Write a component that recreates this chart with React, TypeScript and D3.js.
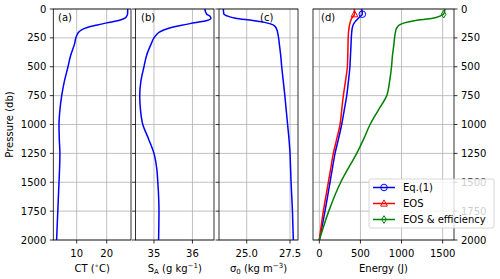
import React, { useEffect, useRef } from "react";
import * as d3 from "d3";

// pressure levels (db) shared by every profile
const pres = [0, 45, 60, 80, 100, 120, 140, 160, 180, 200, 225, 250, 300, 400, 500, 625, 750, 875, 1000, 1125, 1250, 1375, 1500, 1750, 2000];

// (a) conservative temperature
const ct = [27.0, 26.95, 26.7, 26.1, 24.0, 20.0, 16.5, 13.5, 11.6, 10.7, 10.1, 9.7, 9.3, 8.0, 7.1, 5.9, 5.0, 4.4, 4.1, 4.2, 4.4, 4.3, 4.1, 3.7, 3.3];
// (b) absolute salinity
const sa = [36.32, 36.37, 36.45, 36.48, 36.38, 36.05, 35.72, 35.45, 35.27, 35.14, 35.06, 35.0, 34.93, 34.81, 34.74, 34.66, 34.63, 34.65, 34.71, 34.86, 35.0, 35.07, 35.1, 35.13, 35.12];
// (c) potential density anomaly
const sigma0 = [23.65, 23.68, 23.88, 24.35, 25.35, 26.15, 26.55, 26.68, 26.74, 26.78, 26.81, 26.84, 26.88, 26.96, 27.02, 27.11, 27.2, 27.28, 27.36, 27.44, 27.5, 27.53, 27.56, 27.64, 27.69];
// (d) energy
const eq1 = [515, 523, 505, 475, 448, 425, 410, 402, 397, 394, 391, 389, 386, 379, 372, 354, 333, 303, 272, 233, 191, 160, 130, 69, 0];
const eos = [426, 428, 415, 394, 382, 374, 367, 362, 358, 355, 353, 351, 349, 346, 341, 318, 292, 272, 252, 212, 170, 140, 110, 49, 0];
const eosEff = [1529, 1512, 1470, 1380, 1170, 1035, 970, 945, 932, 926, 920, 915, 908, 890, 878, 855, 820, 718, 617, 540, 455, 355, 260, 115, 0];
const markIdx = [1];

const presTicks = [0, 250, 500, 750, 1000, 1250, 1500, 1750, 2000];
const ctTicks = [10, 20];
const saTicks = [35, 36];
const sigTicks = [25.0, 27.5];
const energyTicks = [0, 500, 1000, 1500];

const legendNames = ["Eq.(1)", "EOS", "EOS & efficiency"];
const colors = ["#0000ff", "#ff0000", "#008000"];

const W = 500, H = 279;
const top = 9, bottom = 240;
const FONT = "DejaVu Sans";

export default function App() {
  const ref = useRef<SVGSVGElement>(null);

  useEffect(() => {
    const svg = d3.select(ref.current);
    svg.selectAll("*").remove();
    svg.attr("font-family", FONT);

    const y = d3.scaleLinear().domain([0, 2000]).range([top, bottom]);

    const panels = [
      { x0: 53.3, x1: 131, dom: [2.2, 28.1], ticks: ctTicks, fmt: (d: number) => String(d), label: "(a)", lx: 58, series: [ct], left: true },
      { x0: 135.5, x1: 214, dom: [34.52, 36.56], ticks: saTicks, fmt: (d: number) => String(d), label: "(b)", lx: 141, series: [sa], left: false },
      { x0: 219, x1: 298, dom: [23.4, 27.96], ticks: sigTicks, fmt: (d: number) => d.toFixed(1), label: "(c)", lx: 260, series: [sigma0], left: false },
      { x0: 313, x1: 454, dom: [-77, 1638], ticks: energyTicks, fmt: (d: number) => String(d), label: "(d)", lx: 321, series: [eq1, eos, eosEff], left: false },
    ];

    panels.forEach((p, pi) => {
      const x = d3.scaleLinear().domain(p.dom).range([p.x0, p.x1]);
      const g = svg.append("g");

      // grid
      g.selectAll(".vg").data(p.ticks).join("line")
        .attr("x1", d => x(d)).attr("x2", d => x(d))
        .attr("y1", top).attr("y2", bottom)
        .attr("stroke", "#b0b0b0").attr("stroke-width", 0.8);
      g.selectAll(".hg").data(presTicks).join("line")
        .attr("x1", p.x0).attr("x2", p.x1)
        .attr("y1", d => y(d)).attr("y2", d => y(d))
        .attr("stroke", "#b0b0b0").attr("stroke-width", 0.8);

      // profiles
      const line = d3.line<number>()
        .x(d => x(d))
        .y((_, i) => y(pres[i]))
        .curve(d3.curveMonotoneY);
      p.series.forEach((s, si) => {
        g.append("path").attr("d", line(s)!)
          .attr("fill", "none").attr("stroke", colors[si]).attr("stroke-width", 1.5);
      });

      // markers (panel d)
      if (pi === 3) {
        p.series.forEach((s, si) => {
          markIdx.forEach(i => {
            drawMarker(g, si, x(s[i]), y(pres[i]));
          });
        });
      }

      // frame
      g.append("rect").attr("x", p.x0).attr("y", top)
        .attr("width", p.x1 - p.x0).attr("height", bottom - top)
        .attr("fill", "none").attr("stroke", "#000").attr("stroke-width", 0.8);

      // x axis ticks
      g.selectAll(".xt").data(p.ticks).join("line")
        .attr("x1", d => x(d)).attr("x2", d => x(d))
        .attr("y1", bottom).attr("y2", bottom + 3.5)
        .attr("stroke", "#000").attr("stroke-width", 0.8);
      g.selectAll(".xl").data(p.ticks).join("text")
        .attr("x", d => x(d)).attr("y", 257)
        .attr("text-anchor", "middle").attr("font-size", 10)
        .text(d => p.fmt(d));

      // y axis ticks
      if (pi < 3) {
        g.selectAll(".yt").data(presTicks).join("line")
          .attr("x1", p.x0 - 3.5).attr("x2", p.x0)
          .attr("y1", d => y(d)).attr("y2", d => y(d))
          .attr("stroke", "#000").attr("stroke-width", 0.8);
      } else {
        g.selectAll(".yt").data(presTicks).join("line")
          .attr("x1", p.x1).attr("x2", p.x1 + 3.5)
          .attr("y1", d => y(d)).attr("y2", d => y(d))
          .attr("stroke", "#000").attr("stroke-width", 0.8);
        g.selectAll(".yl").data(presTicks).join("text")
          .attr("x", p.x1 + 7).attr("y", d => y(d) + 3.6)
          .attr("font-size", 10).text(d => String(d));
      }
      if (p.left) {
        g.selectAll(".yl").data(presTicks).join("text")
          .attr("x", p.x0 - 7).attr("y", d => y(d) + 3.6)
          .attr("text-anchor", "end").attr("font-size", 10).text(d => String(d));
      }

      // panel letter
      g.append("text").attr("x", p.lx).attr("y", 21).attr("font-size", 10).text(p.label);
    });

    // axis labels
    const xl = (cx: number) => svg.append("text").attr("x", cx).attr("y", 271.5)
      .attr("text-anchor", "middle").attr("font-size", 10);
    const tl = xl((53.3 + 131) / 2);
    tl.append("tspan").text("CT  (");
    tl.append("tspan").attr("font-size", 7).attr("dy", -4).text("∘");
    tl.append("tspan").attr("dy", 4).text("C)");
    const sl = xl((135.5 + 214) / 2);
    sl.append("tspan").text("S");
    sl.append("tspan").attr("font-size", 7).attr("dy", 2).text("A");
    sl.append("tspan").attr("dy", -2).text("  (g kg");
    sl.append("tspan").attr("font-size", 7).attr("dy", -4).text("−1");
    sl.append("tspan").attr("dy", 4).text(")");
    const cl = xl((219 + 298) / 2);
    cl.append("tspan").text("σ");
    cl.append("tspan").attr("font-size", 7).attr("dy", 2).text("0");
    cl.append("tspan").attr("dy", -2).text("  (kg m");
    cl.append("tspan").attr("font-size", 7).attr("dy", -4).text("−3");
    cl.append("tspan").attr("dy", 4).text(")");
    xl((313 + 454) / 2).text("Energy (J)");

    svg.append("text").attr("transform", `translate(12.5, ${(top + bottom) / 2}) rotate(-90)`)
      .attr("text-anchor", "middle").attr("font-size", 10).text("Pressure (db)");

    // legend
    const lg = svg.append("g");
    lg.append("rect").attr("x", 369).attr("y", 179).attr("width", 125).attr("height", 49)
      .attr("rx", 2).attr("fill", "#fff").attr("fill-opacity", 0.8)
      .attr("stroke", "#cccccc").attr("stroke-width", 0.8);
    legendNames.forEach((name, i) => {
      const ly = 187.5 + i * 16;
      lg.append("line").attr("x1", 373).attr("x2", 395).attr("y1", ly).attr("y2", ly)
        .attr("stroke", colors[i]).attr("stroke-width", 1.5);
      drawMarker(lg, i, 384, ly);
      lg.append("text").attr("x", 403).attr("y", ly + 3.6).attr("font-size", 10).text(name);
    });
  }, []);

  return (
    <svg ref={ref} width={W} height={H} style={{ position: "absolute", left: 0, top: 0 }} />
  );
}

function drawMarker(g: d3.Selection<SVGGElement, unknown, null, undefined>, kind: number, cx: number, cy: number) {
  const c = colors[kind];
  if (kind === 0) {
    g.append("circle").attr("cx", cx).attr("cy", cy).attr("r", 3.3)
      .attr("fill", "none").attr("stroke", c).attr("stroke-width", 1);
  } else if (kind === 1) {
    g.append("path").attr("d", `M${cx},${cy - 3.6}L${cx + 3.4},${cy + 2.6}L${cx - 3.4},${cy + 2.6}Z`)
      .attr("fill", "none").attr("stroke", c).attr("stroke-width", 1);
  } else {
    g.append("path").attr("d", `M${cx},${cy - 3.8}L${cx + 2.4},${cy}L${cx},${cy + 3.8}L${cx - 2.4},${cy}Z`)
      .attr("fill", "none").attr("stroke", c).attr("stroke-width", 1);
  }
}
